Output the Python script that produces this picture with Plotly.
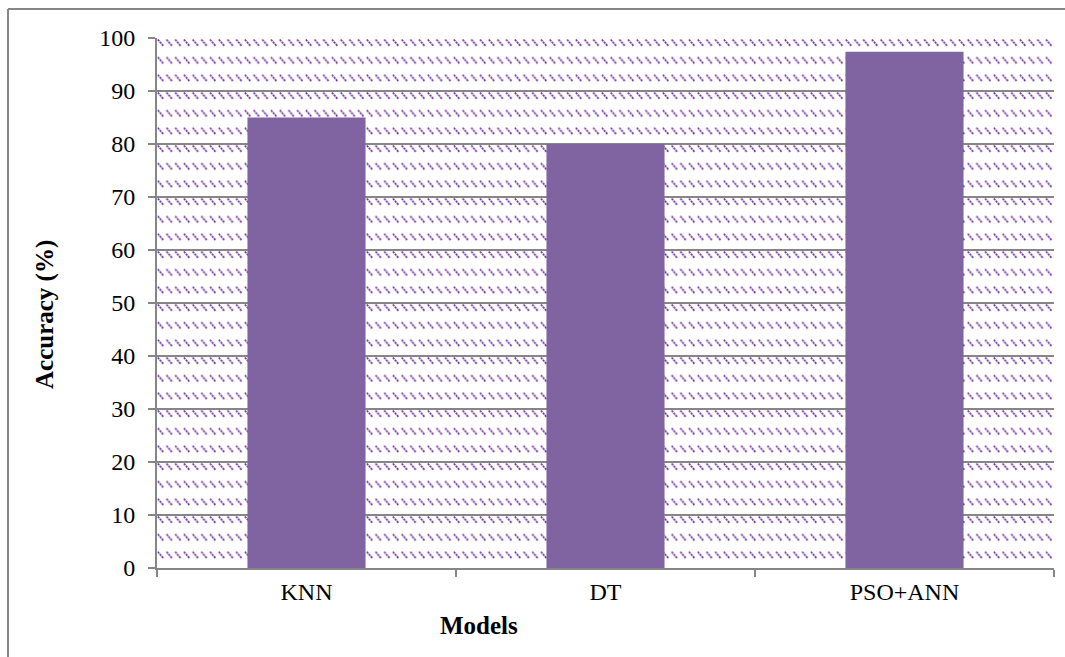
import base64
import plotly.graph_objects as go

# Model accuracy comparison
models = ["KNN", "DT", "PSO+ANN"]
accuracy = [85.0, 80.0, 97.4]
y_ticks = [0, 10, 20, 30, 40, 50, 60, 70, 80, 90, 100]

W, H = 1065, 657
M_L, M_R, M_T, M_B = 157, 11, 38, 89
plot_w = W - M_L - M_R
plot_h = H - M_T - M_B

bar_color = "#8064A2"
axis_gray = "#868686"
font_family = "Liberation Serif, Times New Roman, serif"

# Dashed downward-diagonal fill for the plotting area (Excel-style pattern)
tile_w = plot_w / 103.0
row_h = plot_h / 30.0
svg = (
    f'<svg xmlns="http://www.w3.org/2000/svg" width="{plot_w}" height="{plot_h}" '
    f'viewBox="0 0 {plot_w} {plot_h}">'
    f'<defs><pattern id="p" patternUnits="userSpaceOnUse" x="0" y="0" '
    f'width="{tile_w:.4f}" height="{row_h:.4f}">'
    f'<line x1="0.8" y1="1.5" x2="6.6" y2="8.2" stroke="#7030A0" '
    f'stroke-width="1.7" stroke-dasharray="2.2,0.8"/>'
    f'</pattern></defs>'
    f'<rect width="{plot_w}" height="{plot_h}" fill="white"/>'
    f'<rect width="{plot_w}" height="{plot_h}" fill="url(#p)"/>'
    f'</svg>'
)
svg_uri = "data:image/svg+xml;base64," + base64.b64encode(svg.encode()).decode()

fig = go.Figure()
fig.add_trace(go.Bar(
    x=models,
    y=accuracy,
    marker=dict(color=bar_color, line=dict(width=0)),
    hoverinfo="x+y",
))

fig.add_layout_image(dict(
    source=svg_uri,
    xref="paper", yref="paper",
    x=0, y=1, sizex=1, sizey=1,
    xanchor="left", yanchor="top",
    sizing="stretch", layer="below",
))

# Pixel -> paper coordinate helpers
px = lambda v: (v - M_L) / plot_w
py = lambda v: (H - M_B - v) / plot_h

# Chart-area frame (left and top edges)
fig.add_shape(type="line", xref="paper", yref="paper",
              x0=px(8), x1=px(W + 5), y0=py(9), y1=py(9),
              line=dict(color=axis_gray, width=2))
fig.add_shape(type="line", xref="paper", yref="paper",
              x0=px(8), x1=px(8), y0=py(9), y1=py(H + 5),
              line=dict(color=axis_gray, width=2))

# Axis titles
fig.add_annotation(text="<b>Models</b>", xref="paper", yref="paper",
                   x=px(479), y=py(625), xanchor="center", yanchor="middle",
                   showarrow=False, font=dict(size=25))
fig.add_annotation(text="<b>Accuracy (%)</b>", xref="paper", yref="paper",
                   x=px(45), y=py(315), xanchor="center", yanchor="middle",
                   textangle=-90, showarrow=False, font=dict(size=25))

fig.update_layout(
    width=W, height=H,
    margin=dict(l=M_L, r=M_R, t=M_T, b=M_B, pad=0),
    paper_bgcolor="white",
    plot_bgcolor="white",
    bargap=0.605,
    showlegend=False,
    font=dict(family=font_family, size=24, color="black"),
    xaxis=dict(
        type="category",
        range=[-0.5, 2.5],
        showline=True, linecolor=axis_gray, linewidth=2,
        ticks="outside", ticklen=7, tickcolor=axis_gray, tickwidth=2,
        tickson="boundaries",
        showgrid=False,
        tickfont=dict(size=24),
        ticklabelstandoff=1,
    ),
    yaxis=dict(
        range=[0, 100],
        tickvals=y_ticks,
        showline=True, linecolor=axis_gray, linewidth=2,
        ticks="outside", ticklen=7, tickcolor=axis_gray, tickwidth=2,
        showgrid=True, gridcolor=axis_gray, gridwidth=2,
        zeroline=False,
        tickfont=dict(size=24),
        ticklabelstandoff=8,
    ),
)

fig.write_html("out.html")
